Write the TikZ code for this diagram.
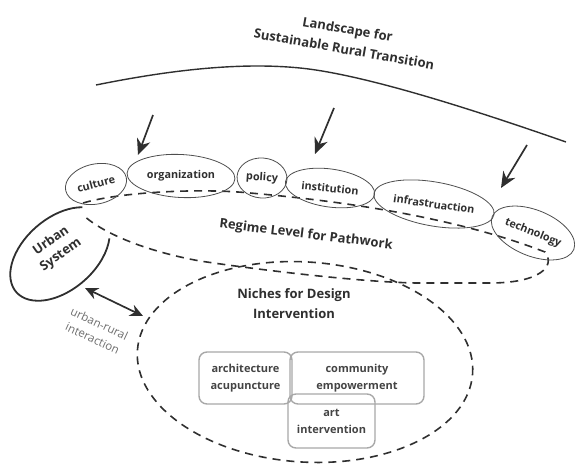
\documentclass[tikz,border=0pt]{standalone}
\usepackage{fontspec}
\setmainfont{Open Sans}
\definecolor{inkDark}{HTML}{2F2F2F}
\definecolor{inkGray}{HTML}{6E6E6E}
\definecolor{boxGray}{HTML}{A8A8A8}
\usetikzlibrary{
	arrows.meta,
	positioning,
	shapes.geometric
}
\tikzset{
	regimeEll/.style={
		ellipse,
		draw=inkDark!85,
		line width=0.8pt,
		inner sep=0pt
	},
	regimeTxt/.style={
		text=inkDark,
		font=\fontsize{10.8}{12}\selectfont\bfseries,
		inner sep=0pt
	},
	bigTxt/.style={
		text=inkDark,
		align=center,
		font=\fontsize{13}{20}\selectfont\bfseries
	},
	landLine/.style={
		draw=inkDark,
		line width=1.4pt
	},
	landArrow/.style={
		-{Stealth[length=16pt,width=14pt]},
		line width=1.7pt,
		draw=inkDark
	},
	trackDash/.style={
		draw=inkDark,
		line width=1.6pt,
		dash pattern=on 8pt off 6pt
	},
	urbanLine/.style={
		draw=inkDark,
		line width=1.8pt
	},
	nicheBox/.style={
		draw=boxGray,
		line width=1.4pt,
		rounded corners=8pt,
		align=center,
		text=inkDark!90,
		font=\fontsize{11}{17}\selectfont\bfseries,
		inner sep=0pt
	}
}

\begin{document}
\begin{tikzpicture}[x=1pt,y=-1pt]
		\useasboundingbox (0,0) rectangle (575,463);
		% landscape
		\draw[landLine] (96,85) .. controls (170,70) and (240,62) .. (300,68)
			.. controls (360,74) and (460,105) .. (566,142);
		\node[bigTxt, rotate=-10] (landTitle) at (346,39) {Landscape for\\Sustainable Rural Transition};
		\coordinate (arrA) at (153,115);
		\coordinate (tipA) at (138,155);
		\coordinate (arrB) at (334,108);
		\coordinate (tipB) at (315,154);
		\coordinate (arrC) at (527,145);
		\coordinate (tipC) at (501,188);
		\foreach \s/\t in {arrA/tipA,arrB/tipB,arrC/tipC}{
			\draw[landArrow] (\s) -- (\t);
		}
		% regime
		\draw[trackDash] (83,203) .. controls (120,192) and (200,188) .. (250,193)
			.. controls (330,200) and (450,215) .. (545,252)
			.. controls (556,266) and (540,283) .. (490,283)
			-- (416,283)
			.. controls (360,282) and (260,270) .. (200,261)
			.. controls (150,252) and (105,235) .. (83,215);
		\foreach \nm/\x/\y/\w/\h/\r/\tr in {culture/96/184/62/40/12/15,organization/181/176/108/43/-3/0,policy/262/178/50/40/-4/-4,institution/330/188/90/38/-8/-6,infrastruaction/434/204/122/44/-10/-8,technology/533/233/88/46/-22/-22}{
			\node[regimeEll, minimum width=\w, minimum height=\h, rotate=\r] (\nm) at (\x,\y) {};
			\node[regimeTxt, rotate=\tr] at (\nm) {\nm};
		}
		\node[bigTxt, rotate=-7] (regimeTitle) at (306,235) {Regime Level for Pathwork};
		% urban system (open at the top)
		\draw[urbanLine, shift={(60,254)}, rotate=41] (35:58pt and 36pt)
			arc[start angle=35, end angle=325, x radius=58pt, y radius=36pt];
		\node[bigTxt, rotate=35, font=\fontsize{13}{17}\selectfont\bfseries] (urban) at (56,248) {Urban\\System};
		% niches
		\node[ellipse, trackDash, minimum width=336, minimum height=200, rotate=-4] (niches) at (305,362) {};
		\node[bigTxt] (nicheTitle) at (294,304) {Niches for Design\\Intervention};
		\coordinate (urbEnd) at (85,288);
		\coordinate (nicEnd) at (143,316);
		\draw[{Stealth[length=13pt,width=12pt]}-{Stealth[length=13pt,width=12pt]}, line width=1.7pt, draw=inkDark] (urbEnd) -- (nicEnd);
		\node[text=inkGray, align=center, rotate=-25, font=\fontsize{11.5}{16}\selectfont] (interTxt) at (96,331) {urban-rural\\interaction};
		\node[nicheBox, minimum width=93, minimum height=52] (archBox) at (245.5,378) {architecture\\acupuncture};
		\node[nicheBox, minimum width=134, minimum height=52] (commBox) at (357,378) {community\\empowerment};
		\node[nicheBox, minimum width=87, minimum height=54] (artBox) at (331.5,421) {art\\intervention};
	\end{tikzpicture}
\end{document}
